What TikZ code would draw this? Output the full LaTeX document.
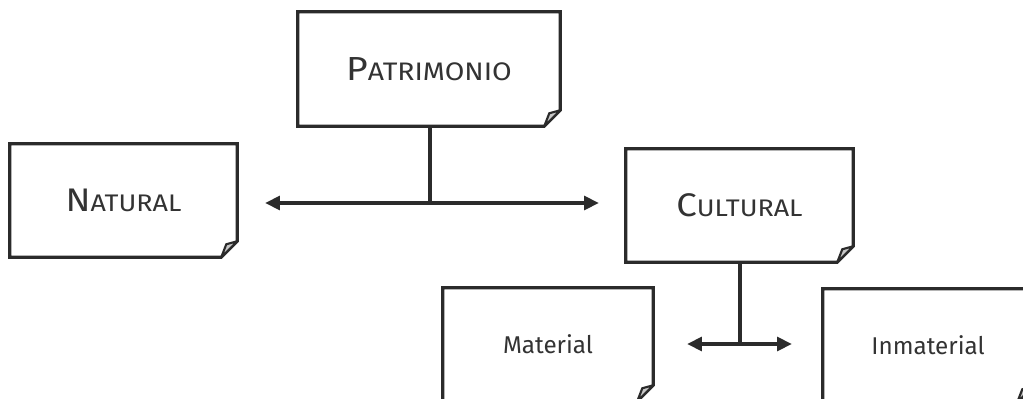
\documentclass[tikz,border=0pt]{standalone}
\usepackage{fontspec}
\setmainfont{Fira Sans}
\newfontfamily\wideface[FakeStretch=1.12]{Fira Sans}
\usetikzlibrary{arrows.meta}

\definecolor{ink}{HTML}{2B2B2B}
\definecolor{txt}{HTML}{333333}
\definecolor{foldgray}{HTML}{C8C8C8}

% word in small capitals: large initial, smaller capitals for the rest
\newcommand\capword[4]{{\wideface\fontsize{#1}{#1}\selectfont #3}{\wideface\fontsize{#2}{#2}\selectfont #4}}
\newcommand\plainword[1]{\fontsize{18.2pt}{18.2pt}\selectfont #1}

\tikzset{
  card/.style={draw=none, inner sep=0pt, text=txt, minimum width=#1},
  card/.default=157.5pt,
  outline/.style={draw=ink, line width=2.3pt, fill=white},
  flap/.style={draw=ink, line width=1.6pt, fill=foldgray, line join=round},
  link/.style={draw=ink, line width=2.3pt},
  twoway/.style={link, {Triangle[length=11pt,width=10.5pt]}-{Triangle[length=11pt,width=10.5pt]}},
}

% sheet with a folded bottom-right corner, drawn round a named node
\newcommand\sheet[1]{%
  \draw[outline] (#1.north west) -- (#1.north east) -- ([yshift=12pt]#1.south east)
    -- ([xshift=-12pt]#1.south east) -- (#1.south west) -- cycle;
  \draw[flap] ([xshift=-12pt]#1.south east) -- ([xshift=-8.25pt,yshift=9.75pt]#1.south east)
    -- ([yshift=12pt]#1.south east) -- cycle;
}

\begin{document}
\begin{tikzpicture}[x=0.75pt, y=-0.75pt]
  \useasboundingbox (0,0) rectangle (1023,399);

  % sheets are placed first (named, empty), outlined, then lettered
  \node[card=196.5pt, minimum height=85.5pt] (pat) at (429,69) {};
  \node[card=170.25pt, minimum height=84.75pt] (nat) at (123.5,200.5) {};
  \node[card=170.25pt, minimum height=84.75pt] (cul) at (739.5,205.5) {};
  \node[card=157.5pt, minimum height=84.75pt] (mat) at (548,344.5) {};
  \node[card=157.5pt, minimum height=84.75pt] (inm) at (928,345.5) {};

  \foreach \n in {pat,nat,cul,mat,inm} {\sheet{\n}}

  \node[card=196.5pt, minimum height=85.5pt] (patlabel) at (pat) {\capword{25pt}{19pt}{P}{ATRIMONIO}};
  \node[card=170.25pt, minimum height=84.75pt] (natlabel) at (nat) {\capword{24.5pt}{18pt}{N}{ATURAL}};
  \node[card=170.25pt, minimum height=84.75pt] (cullabel) at (cul) {\capword{24.5pt}{18pt}{C}{ULTURAL}};
  \node[card=157.5pt, minimum height=84.75pt] (matlabel) at (mat) {\plainword{Material}};
  \node[card=157.5pt, minimum height=84.75pt] (inmlabel) at (inm) {\plainword{Inmaterial}};

  % first level: Patrimonio splits into Natural and Cultural
  \coordinate (j1) at (430,203);
  \draw[link] (pat.south -| j1) -- (j1);
  \draw[twoway] ([xshift=21pt]nat.east |- j1) -- ([xshift=-20.25pt]cul.west |- j1);

  % second level: Cultural splits into Material and Inmaterial
  \coordinate (j2) at (740,344);
  \draw[link] (cul.south -| j2) -- (j2);
  \draw[twoway] ([xshift=25.5pt]mat.east |- j2) -- ([xshift=-23.25pt]inm.west |- j2);
\end{tikzpicture}
\end{document}
